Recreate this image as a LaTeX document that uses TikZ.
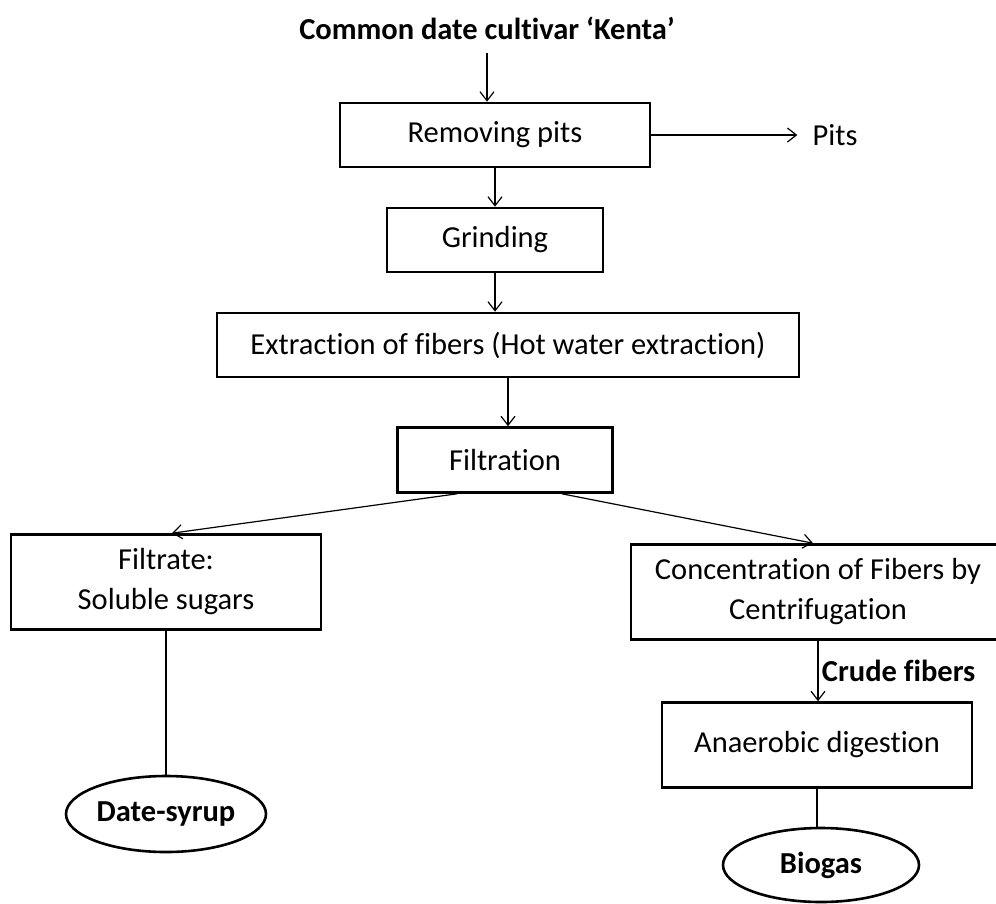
\documentclass[tikz,border=0pt]{standalone}
\usepackage{fontspec}
\setmainfont{Carlito}[Ligatures=CommonOff]
\usetikzlibrary{arrows.meta,shapes.geometric}

\begin{document}
\begin{tikzpicture}[
            x=1pt, y=-1pt,
            every node/.style={font=\fontsize{30.5}{40}\selectfont},
            bold/.style={font=\fontsize{30.5}{40}\selectfont\bfseries},
            box/.style={draw, line width=2.6pt, inner sep=0pt, align=center},
            oval/.style={ellipse, draw, line width=2.6pt, inner sep=0pt, bold},
            arr/.style={line width=1.2pt, -{Straight Barb[length=9pt,width=14pt]}}
            ]
            \useasboundingbox (0,0) rectangle (996,903);
            \node[bold] (title) at (487,28) {Common date cultivar ‘Kenta’};
            \node[box, minimum width=310pt, minimum height=64pt] (rem) at (495,135) {Removing pits};
            \node[inner xsep=15pt] (pits) at (835,135) {Pits};
            \node[box, minimum width=216pt, minimum height=64pt] (grind) at (495,240) {Grinding};
            \node[box, minimum width=582pt, minimum height=64pt] (extr) at (508,345) {Extraction of fibers (Hot water extraction)};
            \node[box, minimum width=215pt, minimum height=65pt] (filt) at (505,460) {Filtration};
            \node[box, minimum width=310pt, minimum height=95pt] (filtrate) at (166,582) {Filtrate:\\Soluble sugars};
            \node[box, minimum width=374pt, minimum height=95pt] (conc) at (818,592) {Concentration of Fibers by\\Centrifugation};
            \node[box, minimum width=310pt, minimum height=85pt] (anaer) at (817,745) {Anaerobic digestion};
            \node[oval, minimum width=200pt, minimum height=76pt] (date) at (166,814) {Date-syrup};
            \node[oval, minimum width=196pt, minimum height=74pt] (gas) at (821,865) {Biogas};

            \draw[arr] ([yshift=-10pt]title.south) -- (title.south |- rem.north);
            \draw[arr] (rem) -- (pits);
            \draw[arr] (rem) -- (grind);
            \draw[arr] (grind) -- (grind |- extr.north);
            \draw[arr] (extr) -- (extr |- filt.north);
            \draw[arr] ([xshift=-48pt]filt.south) -- ([xshift=6pt]filtrate.north);
            \draw[arr] ([xshift=57pt]filt.south) -- ([xshift=-5pt]conc.north);
            \draw[line width=1.2pt] (filtrate) -- (date);
            \draw[arr] (conc) -- (conc |- anaer.north) node[midway, right, bold] {Crude fibers};
            \draw[line width=1.2pt] (anaer) -- (anaer |- gas.north);
        \end{tikzpicture}
\end{document}
